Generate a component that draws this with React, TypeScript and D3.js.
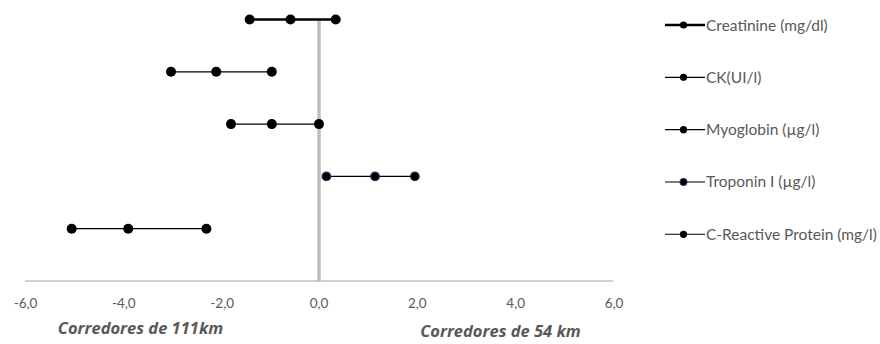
import React from "react";
import * as d3 from "d3";

const categories = [
  "Creatinine (mg/dl)",
  "CK(UI/l)",
  "Myoglobin (µg/l)",
  "Troponin I (µg/l)",
  "C-Reactive Protein (mg/l)",
];
const lowValues = [-1.41, -3.01, -1.79, 0.15, -5.03];
const midValues = [-0.58, -2.09, -0.96, 1.14, -3.88];
const highValues = [0.34, -0.96, 0.0, 1.95, -2.29];
const rowLevels = [5, 4, 3, 2, 1];
const xTicks = [-6, -4, -2, 0, 2, 4, 6];
const axisTitles = ["Corredores de 111km", "Corredores de 54 km"];
const lineWidths = [2.4, 1.2, 1.2, 1.2, 1.2];
const markerStroke = ["#000", "#000", "#000", "#3b2a5c", "#000"];

const W = 880;
const H = 344;
const FONT = "Lato, 'Open Sans', sans-serif";
const TITLE_FONT = "'Open Sans', Lato, sans-serif";
const GREY = "#595959";

export default function App() {
  const x = d3.scaleLinear().domain([-6, 6]).range([24, 614]);
  const y = d3.scaleLinear().domain([0, 5]).range([281, 19.5]);
  const fmt = (v: number) => d3.format(".1f")(v).replace(".", ",").replace("−", "-");
  const legendY = d3.scaleLinear().domain([5, 1]).range([25, 234.3]);

  return (
    <svg
      width={W}
      height={H}
      style={{ position: "absolute", left: 0, top: 0, background: "#fff" }}
      fontFamily={FONT}
    >
      {/* x axis line */}
      <line x1={25} x2={613} y1={y(0)} y2={y(0)} stroke="#d0d0d0" strokeWidth={2} />
      {/* zero line */}
      <line x1={x(0)} x2={x(0)} y1={y(5) + 0.5} y2={y(0)} stroke="#bfbfbf" strokeWidth={3.5} />
      {/* tick labels */}
      {xTicks.map((t) => (
        <text key={t} x={x(t) + (t < 0 ? 1.5 : 0)} y={308} textAnchor="middle" fontSize={13.5} fill={GREY}>
          {fmt(t)}
        </text>
      ))}
      {/* axis titles */}
      <text x={140.5} y={333.5} textAnchor="middle" fontSize={16.5} fontWeight="bold" fontStyle="italic" fill={GREY} fontFamily={TITLE_FONT}>
        {axisTitles[0]}
      </text>
      <text x={500.5} y={337} textAnchor="middle" fontSize={16.5} fontWeight="bold" fontStyle="italic" fill={GREY} fontFamily={TITLE_FONT}>
        {axisTitles[1]}
      </text>
      {/* series */}
      {categories.map((c, i) => {
        const yy = y(rowLevels[i]);
        const vals = [lowValues[i], midValues[i], highValues[i]];
        const r = i === 3 ? 4.3 : 5;
        return (
          <g key={c}>
            <line
              x1={x(lowValues[i])}
              x2={x(highValues[i])}
              y1={yy}
              y2={yy}
              stroke="#000"
              strokeWidth={lineWidths[i]}
            />
            {vals.map((v, j) => (
              <circle key={j} cx={x(v)} cy={yy} r={r} fill="#000" stroke={markerStroke[i]} strokeWidth={i === 3 ? 1.2 : 0} />
            ))}
          </g>
        );
      })}
      {/* legend */}
      {categories.map((c, i) => {
        const ly = legendY(rowLevels[i]);
        return (
          <g key={"lg" + c}>
            <line x1={665} x2={705} y1={ly} y2={ly} stroke="#000" strokeWidth={i === 0 ? 2.6 : 1.1} />
            <circle cx={683.5} cy={ly} r={3.6} fill="#000" stroke={markerStroke[i]} strokeWidth={i === 3 ? 1 : 0} />
            <text x={706} y={ly + 5.5} fontSize={15.5} fill={GREY}>
              {c}
            </text>
          </g>
        );
      })}
    </svg>
  );
}
